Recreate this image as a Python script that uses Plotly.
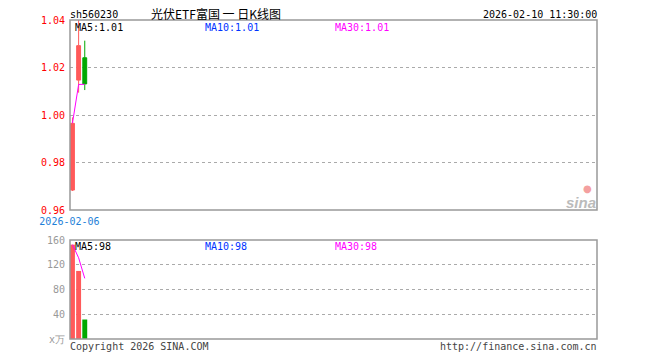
import plotly.graph_objects as go

# ---- data ----
dates = ["2026-02-06", "2026-02-09", "2026-02-10"]
opens = [0.9684, 1.0147, 1.0241]
highs = [0.9990, 1.0400, 1.0313]
lows = [0.9680, 1.0094, 1.0105]
closes = [0.9965, 1.0292, 1.0131]
volumes = [152.5, 110.0, 31.5]
price_ticks = [0.96, 0.98, 1.00, 1.02, 1.04]
vol_ticks = [0, 40, 80, 120, 160]
vol_tick_text = ["x万", "40", "80", "120", "160"]
symbol = "sh560230"
title = "光伏ETF富国 一 日K线图"
timestamp = "2026-02-10 11:30:00"

OFF = 8  # page body margin
W, H = 660 - OFF, 360 - OFF
n = len(dates)
idx = list(range(n))


def ma(vals, k):
    out = []
    for i in range(len(vals)):
        w = vals[max(0, i - k + 1): i + 1]
        out.append(sum(w) / len(w))
    return out


ma5 = ma(closes, 5)
vma5 = ma(volumes, 5)
last_ma5 = ma5[-1]
last_ma10 = ma(closes, 10)[-1]
last_ma30 = ma(closes, 30)[-1]
last_vma5 = vma5[-1]
last_vma10 = ma(volumes, 10)[-1]
last_vma30 = ma(volumes, 30)[-1]

RED = "#ff5a5a"
GREEN = "#00a800"
colors = [RED if c >= o else GREEN for o, c in zip(opens, closes)]


def px(x):
    return (x - OFF) / W


def py(y):
    return 1 - (y - OFF) / H


# plot box pixels (in screenshot coordinates)
L, R = 70, 597
MT, MB = 20, 210
VT, VB = 240, 339
slots = 85.7
xr = [-0.4, -0.4 + slots]

fig = go.Figure()

fig.add_trace(go.Candlestick(
    x=idx, open=opens, high=highs, low=lows, close=closes,
    increasing=dict(line=dict(color=RED, width=1), fillcolor=RED),
    decreasing=dict(line=dict(color=GREEN, width=1), fillcolor=GREEN),
    whiskerwidth=0, xaxis="x", yaxis="y", showlegend=False,
))
fig.add_trace(go.Scatter(
    x=idx, y=ma5, mode="lines", line=dict(color="#ff00ff", width=1),
    xaxis="x", yaxis="y", showlegend=False,
))
fig.add_trace(go.Bar(
    x=idx, y=volumes, marker=dict(color=colors, line=dict(width=0)),
    width=0.8, xaxis="x2", yaxis="y2", showlegend=False,
))
fig.add_trace(go.Scatter(
    x=idx, y=vma5, mode="lines", line=dict(color="#ff00ff", width=1),
    xaxis="x2", yaxis="y2", showlegend=False,
))

mono = "DejaVu Sans Mono"
grid = dict(showgrid=True, gridcolor="#aaaaaa", griddash="dot", gridwidth=1)

fig.update_layout(
    width=W, height=H,
    margin=dict(l=0, r=0, t=0, b=0, autoexpand=False),
    paper_bgcolor="white", plot_bgcolor="white",
    font=dict(family=mono, size=10, color="#000"),
    boxgap=0.1,
    xaxis=dict(domain=[px(L), px(R)], range=xr, rangeslider=dict(visible=False),
               tickvals=[0], ticktext=[dates[0]], ticks="", showgrid=False,
               zeroline=False, tickfont=dict(color="#1e7fd8", size=10, family=mono),
               ticklabelshift=-3, ticklabelstandoff=4, automargin=False),
    yaxis=dict(domain=[py(MB), py(MT)], range=[price_ticks[0], price_ticks[-1]],
               tickvals=price_ticks,
               tickformat=".2f", ticks="", zeroline=False, automargin=False,
               tickfont=dict(color="#ff0000", size=10, family=mono),
               ticklabelstandoff=4, **grid),
    xaxis2=dict(domain=[px(L), px(R)], range=xr, anchor="y2", showticklabels=False,
                ticks="", showgrid=False, zeroline=False, automargin=False),
    yaxis2=dict(domain=[py(VB), py(VT)], range=[0, 160], anchor="x2",
                tickvals=vol_ticks, ticktext=vol_tick_text, ticks="", zeroline=False,
                automargin=False,
                tickfont=dict(color="#999999", size=10, family=mono),
                ticklabelstandoff=4, **grid),
)

# plot frames
for top, bot in [(MT, MB), (VT, VB)]:
    fig.add_shape(type="rect", xref="paper", yref="paper",
                  x0=px(L), x1=px(R), y0=py(bot), y1=py(top),
                  line=dict(color="#999999", width=1.5), layer="above")

ann = []


def t(x, y, text, color="#000", size=10, xanchor="left", family=mono, **kw):
    ann.append(dict(x=px(x), y=py(y), xref="paper", yref="paper", text=text,
                    showarrow=False, xanchor=xanchor, yanchor="middle",
                    borderpad=0,
                    font=dict(color=color, size=size, family=family), **kw))


t(69, 14, symbol, size=10)
t(150, 13.5, title, size=12, family="Noto Sans CJK SC")
t(598, 14, timestamp, xanchor="right")
t(74, 27.5, f"MA5:{last_ma5:.2f}")
t(204, 27.5, f"MA10:{last_ma10:.2f}", color="#0033ff")
t(334, 27.5, f"MA30:{last_ma30:.2f}", color="#ff00ff")
t(74, 246, f"MA5:{last_vma5:.0f}")
t(204, 246, f"MA10:{last_vma10:.0f}", color="#0033ff")
t(334, 246, f"MA30:{last_vma30:.0f}", color="#ff00ff")
t(69, 346, "Copyright 2026 SINA.COM", color="#444444")
t(598, 346, "http://finance.sina.com.cn", color="#444444", xanchor="right")
t(597, 202, "<b><i>sina</i></b>", color="#bbbbbb", size=15, xanchor="right",
  family="Liberation Sans")
t(587, 188, "●", color="#f4a0a0", size=10, xanchor="center", family="DejaVu Sans")
fig.update_layout(annotations=ann)

fig.write_html("out.html")
